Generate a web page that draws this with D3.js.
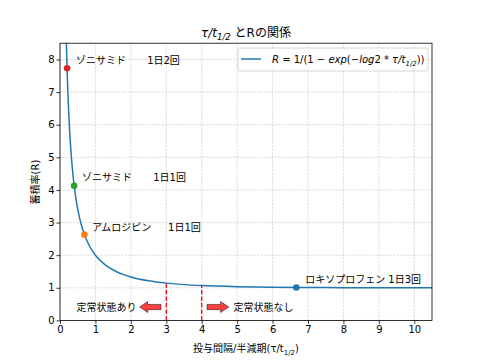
<!DOCTYPE html>
<html><head><meta charset="utf-8">
<script src="https://cdn.jsdelivr.net/npm/d3@7"></script>
<style>
body{margin:0;background:#fff;}
text{font-family:"DejaVu Sans","Noto Sans CJK JP",sans-serif;fill:#000;}
</style></head>
<body><svg id="c" width="480" height="360"></svg>
<script>
// Curve R = 1/(1-exp(-log2*τ/t1/2))
const curveX = [0.1,0.15,0.2,0.25,0.3,0.35,0.4,0.45,0.5,0.6,0.7,0.8,0.9,1.0,1.2,1.4,1.6,1.8,2.0,2.5,3.0,3.5,4.0,5.0,6.0,7.0,8.0,9.0,10.0,11.0];
const curveR = [14.93,10.13,7.725,6.285,5.326,4.642,4.130,3.732,3.414,2.939,2.601,2.349,2.155,2.0,1.771,1.610,1.492,1.403,1.333,1.215,1.143,1.097,1.067,1.032,1.016,1.008,1.004,1.002,1.001,1.0005];
// Drug points
const drugNames = ["ゾニサミド","ゾニサミド","アムロジピン","ロキソプロフェン"];
const drugDosing = ["1日2回","1日1回","1日1回","1日3回"];
const drugX = [0.2,0.4,0.69,6.67];
const drugR = [7.73,4.13,2.63,1.01];
const drugColors = ["#d62728","#2ca02c","#ff7f0e","#1f77b4"];
// Steady-state thresholds
const thresholdX = [3,4];
const thresholdR = [1.143,1.067];
const xTicks = [0,1,2,3,4,5,6,7,8,9,10];
const yTicks = [0,1,2,3,4,5,6,7,8];

const svg = d3.select("#c");
const L=60,R=432,T=43.2,B=320.4;
const x = d3.scaleLinear().domain([0,10.5]).range([L,R]);
const y = d3.scaleLinear().domain([0,8.5]).range([B,T]);

svg.append("defs").append("clipPath").attr("id","clip")
  .append("rect").attr("x",L).attr("y",T).attr("width",R-L).attr("height",B-T);

// grid
const g = svg.append("g");
g.selectAll(".gx").data(xTicks).enter().append("line")
  .attr("x1",d=>x(d)).attr("x2",d=>x(d)).attr("y1",T).attr("y2",B)
  .attr("stroke","#c4c4c4").attr("stroke-width",0.6).attr("stroke-dasharray","2.2,1.2");
g.selectAll(".gy").data(yTicks).enter().append("line")
  .attr("y1",d=>y(d)).attr("y2",d=>y(d)).attr("x1",L).attr("x2",R)
  .attr("stroke","#c4c4c4").attr("stroke-width",0.6).attr("stroke-dasharray","2.2,1.2");

// curve
const pts = curveX.map((v,i)=>[v,curveR[i]]);
svg.append("path").attr("clip-path","url(#clip)")
  .attr("d",d3.line().x(d=>x(d[0])).y(d=>y(d[1])).curve(d3.curveMonotoneX)(pts))
  .attr("fill","none").attr("stroke","#1f77b4").attr("stroke-width",1.5);

// threshold lines
svg.selectAll(".th").data(thresholdX).enter().append("line")
  .attr("x1",d=>x(d)).attr("x2",d=>x(d)).attr("y1",y(0)).attr("y2",(d,i)=>y(thresholdR[i]))
  .attr("stroke","#ff0000").attr("stroke-width",1.3).attr("stroke-dasharray","4.5,2");

// points
svg.selectAll(".pt").data(drugX).enter().append("circle")
  .attr("cx",d=>x(d)).attr("cy",(d,i)=>y(drugR[i])).attr("r",3.3)
  .attr("fill",(d,i)=>drugColors[i]);

// annotations
const ann = [
  {name:0, x:0.45, y:7.96, x2:2.46},
  {name:1, x:0.62, y:4.37, x2:2.63},
  {name:2, x:0.90, y:2.86, x2:3.05},
];
ann.forEach(a=>{
  svg.append("text").attr("x",x(a.x)).attr("y",y(a.y)).attr("dy","0.35em").attr("font-size",10).text(drugNames[a.name]);
  svg.append("text").attr("x",x(a.x2)).attr("y",y(a.y)).attr("dy","0.35em").attr("font-size",10).text(drugDosing[a.name]);
});
svg.append("text").attr("x",x(6.92)).attr("y",y(1.24)).attr("dy","0.35em").attr("font-size",10)
  .text(drugNames[3]+" "+drugDosing[3]);

// arrows
function arrow(x0,x1,yc){
  const px0=x(x0), px1=x(x1), py=y(yc);
  const dir = Math.sign(px1-px0);
  const hl=8, hw=5.5, sw=2.6;
  const hb = px1 - dir*hl;
  const p = [[px0,py-sw],[hb,py-sw],[hb,py-hw],[px1,py],[hb,py+hw],[hb,py+sw],[px0,py+sw]];
  svg.append("path").attr("d","M"+p.map(q=>q.join(",")).join("L")+"Z")
    .attr("fill","#ff4040").attr("stroke","#000").attr("stroke-width",0.5);
}
arrow(2.85,2.25,0.41);
arrow(4.15,4.76,0.41);
svg.append("text").attr("x",x(2.16)).attr("y",y(0.41)).attr("dy","0.35em").attr("font-size",10)
  .attr("text-anchor","end").text("定常状態あり");
svg.append("text").attr("x",x(4.9)).attr("y",y(0.41)).attr("dy","0.35em").attr("font-size",10)
  .text("定常状態なし");

// axes
const xa = svg.append("g").attr("transform",`translate(0,${B})`)
  .call(d3.axisBottom(x).tickValues(xTicks).tickSize(3.5).tickPadding(2).tickFormat(d3.format("d")));
const ya = svg.append("g").attr("transform",`translate(${L},0)`)
  .call(d3.axisLeft(y).tickValues(yTicks).tickSize(3.5).tickPadding(2).tickFormat(d3.format("d")));
[xa,ya].forEach(a=>{a.select(".domain").remove();a.selectAll("text").attr("font-size",10).attr("font-family","DejaVu Sans");a.selectAll("line").attr("stroke","#000").attr("stroke-width",0.8);});
// frame
svg.append("rect").attr("x",L).attr("y",T).attr("width",R-L).attr("height",B-T)
  .attr("fill","none").attr("stroke","#000").attr("stroke-width",0.8);

// legend
svg.append("rect").attr("x",238).attr("y",48).attr("width",190).attr("height",23).attr("rx",2)
  .attr("fill","#fff").attr("fill-opacity",0.8).attr("stroke","#cccccc").attr("stroke-width",0.8);
svg.append("line").attr("x1",241).attr("x2",261).attr("y1",59).attr("y2",59)
  .attr("stroke","#1f77b4").attr("stroke-width",1.5);
const lt = svg.append("text").attr("x",272).attr("y",63).attr("font-size",10).attr("font-style","italic");
lt.append("tspan").text("R");
lt.append("tspan").attr("font-style","normal").text(" = 1/(1 − ");
lt.append("tspan").text("exp");
lt.append("tspan").attr("font-style","normal").text("(−");
lt.append("tspan").text("log");
lt.append("tspan").attr("font-style","normal").text("2 * ");
lt.append("tspan").text("τ/t");
lt.append("tspan").attr("font-size",7).attr("dy",2.5).text("1/2");
lt.append("tspan").attr("font-style","normal").attr("dy",-2.5).text("))");

// title
const tt = svg.append("text").attr("x",246).attr("y",37).attr("text-anchor","middle").attr("font-size",12);
tt.append("tspan").attr("font-style","italic").text("τ/t");
tt.append("tspan").attr("font-size",8.5).attr("dy",3).attr("font-style","italic").text("1/2");
tt.append("tspan").attr("dy",-3).text(" とRの関係");

// x label
const xl = svg.append("text").attr("x",246).attr("y",352).attr("text-anchor","middle").attr("font-size",10);
xl.append("tspan").text("投与間隔/半減期(τ/t");
xl.append("tspan").attr("font-size",7).attr("dy",2.5).text("1/2");
xl.append("tspan").attr("dy",-2.5).text(")");

// y label
svg.append("text").attr("transform","translate(39,182) rotate(-90)").attr("text-anchor","middle")
  .attr("font-size",10).text("蓄積率(R)");
</script></body></html>
